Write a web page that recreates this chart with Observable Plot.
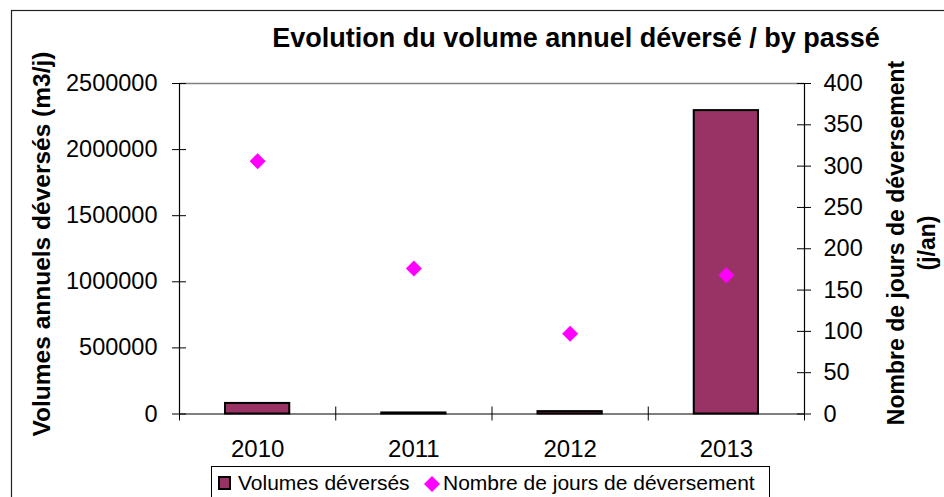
<!DOCTYPE html>
<html>
<head>
<meta charset="utf-8">
<script src="https://cdn.jsdelivr.net/npm/d3@7"></script>
<script src="https://cdn.jsdelivr.net/npm/@observablehq/plot@0.6"></script>
<style>
  html, body { margin: 0; padding: 0; background: #fff; }
  #chart { position: relative; width: 944px; height: 497px; overflow: hidden; }
  #chart svg { display: block; }
</style>
</head>
<body>
<div id="chart"></div>
<script>
// ---- data ----
const years = ["2010", "2011", "2012", "2013"];
const volumes = [80000, 8000, 18000, 2295000];   // Volumes déversés (m3/j)
const days = [306, 176, 97, 168];                // Nombre de jours de déversement (j/an)
const leftTicks = [0, 500000, 1000000, 1500000, 2000000, 2500000];
const rightTicks = [0, 50, 100, 150, 200, 250, 300, 350, 400];
const title = "Evolution du volume annuel déversé / by passé";
const leftTitle = "Volumes annuels déversés (m3/j)";
const rightTitle = ["Nombre de jours de déversement", "(j/an)"];
const legendLabels = ["Volumes déversés", "Nombre de jours de déversement"];

const barColor = "#993366";
const dotColor = "#ff00ff";
const font = "'Liberation Sans', Arial, sans-serif";

const yMax = leftTicks[leftTicks.length - 1];
const rMax = rightTicks[rightTicks.length - 1];
const K = yMax / rMax; // secondary axis mapping

const data = years.map((year, i) => ({ year, i, vol: volumes[i], days: days[i] }));
const boundaries = d3.range(years.length + 1);
const centers = years.map((_, i) => i + 0.5);

const svg = Plot.plot({
  width: 944,
  height: 497,
  marginLeft: 179,
  marginRight: 140,
  marginTop: 83,
  marginBottom: 83.5,
  x: { domain: [0, years.length], axis: null },
  y: { domain: [0, yMax], axis: null },
  style: { fontFamily: font, fontSize: "23px", color: "#000", background: "#fff", overflow: "visible" },
  marks: [
    // plot area top border (grey)
    Plot.ruleY([yMax], { stroke: "#808080", strokeWidth: 1.5 }),
    // bars
    Plot.rectY(data, {
      x1: "i", x2: d => d.i + 1, y: "vol",
      fill: barColor, stroke: "#000", strokeWidth: 2,
      insetLeft: 46, insetRight: 46
    }),
    // axis lines
    Plot.ruleX([0, years.length], { stroke: "#000", strokeWidth: 1.2 }),
    Plot.ruleY([0], { stroke: "#000", strokeWidth: 1.2 }),
    // crossing tick marks
    Plot.ruleY(leftTicks, { x1: 0, x2: 0, insetLeft: -7, insetRight: -7, stroke: "#000" }),
    Plot.ruleY(rightTicks.map(d => d * K), { x1: years.length, x2: years.length, insetLeft: -7, insetRight: -7, stroke: "#000" }),
    Plot.ruleX(boundaries, { y1: 0, y2: 0, insetTop: -7, insetBottom: -7, stroke: "#000" }),
    // tick labels
    Plot.axisY(leftTicks, { anchor: "left", tickSize: 0, tickPadding: 22, tickFormat: d => String(d), label: null, fontSize: 23.5 }),
    Plot.axisY(rightTicks.map(d => d * K), { anchor: "right", tickSize: 0, tickPadding: 19, tickFormat: d => String(Math.round(d / K)), label: null, fontSize: 23.5 }),
    Plot.axisX(centers, { anchor: "bottom", tickSize: 0, tickPadding: 26, tickFormat: d => years[Math.floor(d)], label: null, fontSize: 24 }),
    // diamonds (secondary axis)
    Plot.dot(data, { x: d => d.i + 0.5, y: d => d.days * K, symbol: "diamond2", r: 7.2, fill: dotColor, stroke: "none" })
  ]
});

document.getElementById("chart").appendChild(svg);

const s = d3.select(svg);
// outer chart frame (behind everything)
s.insert("rect", ":first-child")
  .attr("x", 11.5).attr("y", 10.5).attr("width", 1000).attr("height", 1000)
  .attr("fill", "none").attr("stroke", "#222").attr("stroke-width", 1.2);

const g = s.append("g").attr("font-family", font).attr("fill", "#000");

g.append("text")
  .attr("x", 576).attr("y", 47)
  .attr("text-anchor", "middle")
  .attr("font-size", 27).attr("font-weight", "bold")
  .text(title);

g.append("text")
  .attr("transform", "translate(41,244) rotate(-90)")
  .attr("text-anchor", "middle").attr("dy", "0.35em")
  .attr("font-size", 24.5).attr("font-weight", "bold")
  .text(leftTitle);

rightTitle.forEach((t, k) => {
  g.append("text")
    .attr("transform", `translate(${896 + k * 31},243) rotate(-90)`)
    .attr("text-anchor", "middle").attr("dy", "0.35em")
    .attr("font-size", 23).attr("font-weight", "bold")
    .text(t);
});

// legend
const lg = s.append("g").attr("font-family", font).attr("text-anchor", "start");
lg.append("rect")
  .attr("x", 211.5).attr("y", 466.5).attr("width", 558).attr("height", 60)
  .attr("fill", "#fff").attr("stroke", "#000").attr("stroke-width", 1);
lg.append("rect")
  .attr("x", 219).attr("y", 477).attr("width", 11).attr("height", 12)
  .attr("fill", barColor).attr("stroke", "#000").attr("stroke-width", 2);
lg.append("text")
  .attr("x", 238).attr("y", 490).attr("font-size", 21).attr("fill", "#000")
  .attr("text-anchor", "start")
  .text(legendLabels[0]);
lg.append("path")
  .attr("transform", "translate(432,484)")
  .attr("d", d3.symbol(d3.symbolDiamond2, 7.2 * 7.2 * Math.PI)())
  .attr("fill", dotColor);
lg.append("text")
  .attr("x", 443).attr("y", 490).attr("font-size", 21).attr("fill", "#000")
  .attr("text-anchor", "start")
  .text(legendLabels[1]);
</script>
</body>
</html>
